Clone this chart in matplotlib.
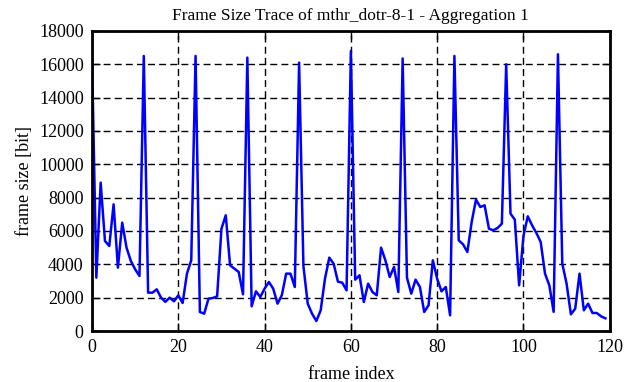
import numpy as np
import matplotlib
matplotlib.use("Agg")
import matplotlib.pyplot as plt

# frame sizes [bit] (frames 0..119)
frame_size = [
    16400, 3200, 8900, 5400, 5100, 7600, 3800, 6500, 5000, 4200,
    3700, 3300, 16500, 2300, 2300, 2500, 2000, 1750, 2000, 1780,
    2140, 1680, 3440, 4240, 16500, 1140, 1040, 1940, 1980, 2080,
    6140, 6940, 3940, 3740, 3540, 2200, 16400, 1480, 2380, 2040,
    2540, 2940, 2540, 1640, 2150, 3440, 3440, 2640, 16100, 3900,
    1640, 1040, 600, 1240, 3140, 4400, 4040, 2960, 2900, 2440,
    16800, 3080, 3340, 1740, 2840, 2340, 2140, 5000, 4240, 3240,
    3840, 2340, 16350, 3200, 2240, 3080, 2640, 1140, 1540, 4240,
    3140, 2380, 2640, 940, 16500, 5440, 5200, 4740, 6540, 7880,
    7440, 7540, 6140, 6040, 6180, 6440, 16000, 7040, 6680, 2740,
    5700, 6880, 6340, 5880, 5340, 3440, 2740, 1150, 16600, 4040,
    2840, 1000, 1340, 3440, 1240, 1640, 1080, 1080, 880, 760,
]
frame_index = np.arange(len(frame_size))

x_ticks = [0, 20, 40, 60, 80, 100, 120]
y_ticks = list(range(0, 18001, 2000))

plt.rcParams["font.family"] = ["Liberation Serif", "DejaVu Serif"]

fig = plt.figure(figsize=(6.26, 3.82), dpi=100)
ax = fig.add_axes([0.147, 0.1335, 0.827, 0.7855])

ax.plot(frame_index, frame_size, color="#0000ff", linewidth=1.8)

ax.set_xlim(0, 120)
ax.set_ylim(0, 18000)
ax.set_xticks(x_ticks)
ax.set_yticks(y_ticks)
ax.tick_params(direction="in", length=6, width=1, labelsize=13,
               top=True, right=True, pad=6)
ax.grid(True, color="black", linestyle=(0, (5, 3)), linewidth=1)

for spine in ax.spines.values():
    spine.set_linewidth(2)

ax.set_title("Frame Size Trace of mthr_dotr-8-1 - Aggregation 1", fontsize=12.5, pad=8)
ax.set_xlabel("frame index", fontsize=13, labelpad=7)
ax.set_ylabel("frame size [bit]", fontsize=13, labelpad=4)

fig.savefig("out.png", dpi=100)
